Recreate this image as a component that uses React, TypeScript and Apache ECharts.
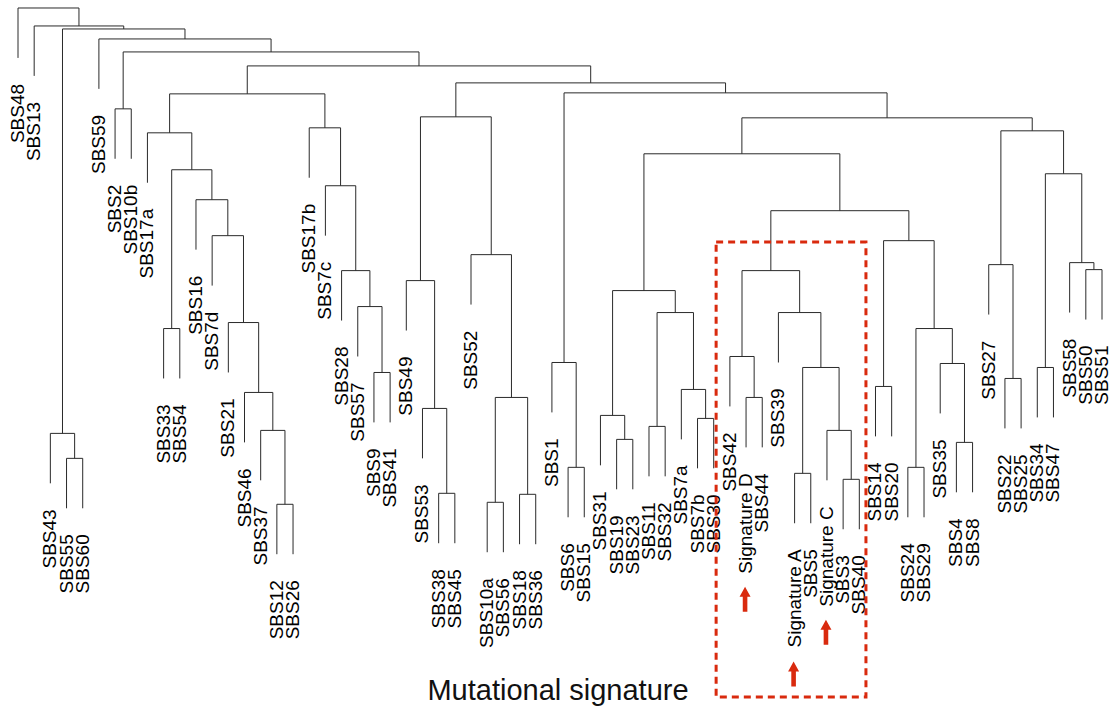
import React, { useEffect, useRef } from "react";
import * as echarts from "echarts";

// Leaves in display order (left to right)
const leafLabels: string[] = [
  "SBS48", "SBS13", "SBS43", "SBS55", "SBS60", "SBS59", "SBS2", "SBS10b", "SBS17a",
  "SBS33", "SBS54", "SBS16", "SBS7d", "SBS21", "SBS46", "SBS37", "SBS12", "SBS26",
  "SBS17b", "SBS7c", "SBS28", "SBS57", "SBS9", "SBS41", "SBS49", "SBS53", "SBS38",
  "SBS45", "SBS52", "SBS10a", "SBS56", "SBS18", "SBS36", "SBS1", "SBS6", "SBS15",
  "SBS31", "SBS19", "SBS23", "SBS11", "SBS32", "SBS7a", "SBS7b", "SBS30", "SBS42",
  "Signature D", "SBS44", "SBS39", "Signature A", "SBS5", "Signature C", "SBS3", "SBS40",
  "SBS14", "SBS20", "SBS24", "SBS29", "SBS35", "SBS4", "SBS8", "SBS27", "SBS22",
  "SBS25", "SBS34", "SBS47", "SBS58", "SBS50", "SBS51",
];

// Merge table (hclust style): a string is a leaf, a number is an earlier merge row
const mergeLeft: (string | number)[] = [
  "SBS55", "SBS43", "SBS2", "SBS33", "SBS12", "SBS37", "SBS46", "SBS21", "SBS7d", "SBS16",
  3, "SBS17a", "SBS9", "SBS57", "SBS28", "SBS7c", "SBS17b", 11, "SBS38", "SBS53",
  "SBS49", "SBS10a", "SBS18", 21, "SBS52", 20, "SBS6", "SBS1", "SBS19", "SBS31",
  "SBS11", "SBS7b", "SBS7a", 30, 29, "Signature D", "SBS42", "Signature A", "SBS3", "Signature C",
  37, "SBS39", 36, "SBS14", "SBS24", "SBS4", "SBS35", 44, 43, 42,
  34, "SBS22", "SBS27", "SBS34", "SBS50", "SBS58", 53, 52, 50, 27,
  25, 17, 2, "SBS59", 1, "SBS13", "SBS48",
];
const mergeRight: (string | number)[] = [
  "SBS60", 0, "SBS10b", "SBS54", "SBS26", 4, 5, 6, 7, 8,
  9, 10, "SBS41", 12, 13, 14, 15, 16, "SBS45", 18,
  19, "SBS56", "SBS36", 22, 23, 24, "SBS15", 26, "SBS23", 28,
  "SBS32", "SBS30", 31, 32, 33, "SBS44", 35, "SBS5", "SBS40", 38,
  39, 40, 41, "SBS20", "SBS29", "SBS8", 45, 46, 47, 48,
  49, "SBS25", 51, "SBS47", "SBS51", 54, 55, 56, 57, 58,
  59, 60, 61, 62, 63, 64, 65,
];
const mergeHeight: number[] = [
  14.1, 16.6, 49.1, 27.1, 9.5, 16.9, 20.7, 27.7, 36.4, 40.0,
  43.0, 46.7, 22.7, 29.3, 32.9, 41.4, 47.2, 50.6, 10.6, 19.1,
  31.9, 9.7, 10.5, 20.2, 34.5, 48.3, 13.2, 23.7, 16.0, 18.4,
  17.3, 18.1, 21.0, 28.7, 30.9, 20.2, 24.3, 12.6, 12.0, 16.9,
  23.2, 28.7, 32.9, 21.3, 13.2, 15.7, 23.6, 27.1, 35.9, 38.9,
  44.6, 22.1, 33.5, 23.2, 33.0, 33.7, 42.6, 46.9, 48.2, 50.7,
  51.7, 53.4, 54.8, 56.1, 57.1, 57.4, 59.2,
];
const hang = 5;

const highlighted: string[] = ["Signature D", "Signature A", "Signature C"];
// dashed box extent: [x0, x1] in leaf-index units, [top, bottom] in height units
const boxX: number[] = [43.15, 52.41];
const boxY: number[] = [35.77, -9.8];
const axisTitle = "Mutational signature";

const FONT = '"Liberation Sans", Arial, Helvetica, sans-serif';
const RED = "#d92a0e";

export default function App() {
  const ref = useRef<HTMLDivElement>(null);

  useEffect(() => {
    if (!ref.current) return;
    const chart = echarts.init(ref.current, null, { renderer: "svg" });

    const leafPos: Record<string, number> = {};
    leafLabels.forEach((l, i) => (leafPos[l] = i));
    const nodeX: number[] = [];
    const leafParentH: Record<string, number> = {};
    const links: number[][] = [];
    const child = (c: string | number, h: number): [number, number] => {
      if (typeof c === "number") return [nodeX[c], mergeHeight[c]];
      leafParentH[c] = h;
      return [leafPos[c], h - hang];
    };
    for (let i = 0; i < mergeHeight.length; i++) {
      const h = mergeHeight[i];
      const [xl, tl] = child(mergeLeft[i], h);
      const [xr, tr] = child(mergeRight[i], h);
      nodeX[i] = (xl + xr) / 2;
      links.push([xl, tl, xr, tr, h]);
    }
    const leafData = leafLabels.map((l) => [leafPos[l], leafParentH[l] - hang]);

    const canvas = document.createElement("canvas");
    const ctx = canvas.getContext("2d")!;
    const fontSize = 19;
    ctx.font = `${fontSize}px ${FONT}`;
    const labelGap = 26;

    chart.setOption({
      animation: false,
      backgroundColor: "#ffffff",
      grid: { left: 18, right: 8, top: 0, height: 710 },
      xAxis: { type: "value", min: 0, max: 67, show: false },
      yAxis: { type: "value", min: -11, max: 60, show: false },
      graphic: [
        {
          type: "text",
          x: 558,
          y: 690,
          style: {
            text: axisTitle,
            fontSize: 29,
            fontFamily: FONT,
            fill: "#111",
            align: "center",
            verticalAlign: "middle",
          },
        },
      ],
      series: [
        {
          type: "custom",
          clip: false,
          silent: true,
          data: links,
          encode: { x: [0, 2], y: [1, 3, 4] },
          renderItem: (params: any, api: any) => {
            const a = api.coord([api.value(0), api.value(1)]);
            const b = api.coord([api.value(0), api.value(4)]);
            const c = api.coord([api.value(2), api.value(4)]);
            const d = api.coord([api.value(2), api.value(3)]);
            return {
              type: "polyline",
              shape: { points: [a, b, c, d] },
              style: { stroke: "#2a2a2a", lineWidth: 1, fill: null },
            };
          },
        },
        {
          type: "custom",
          clip: false,
          silent: true,
          data: leafData,
          encode: { x: 0, y: 1 },
          renderItem: (params: any, api: any) => {
            const p = api.coord([api.value(0), api.value(1)]);
            const label = leafLabels[params.dataIndex];
            const ty = p[1] + labelGap;
            const children: any[] = [
              {
                type: "text",
                x: p[0] - 0.5,
                y: ty,
                rotation: Math.PI / 2,
                style: {
                  text: label,
                  fontSize,
                  lineHeight: 15,
                  fontFamily: FONT,
                  fill: "#000",
                  align: "right",
                  verticalAlign: "middle",
                },
              },
            ];
            if (highlighted.includes(label)) {
              const w = ctx.measureText(label).width;
              const top = ty + w + 13;
              const x = p[0] - 1;
              children.push({
                type: "polygon",
                shape: {
                  points: [
                    [x, top],
                    [x + 5.5, top + 10],
                    [x + 2.3, top + 10],
                    [x + 2.3, top + 25],
                    [x - 2.3, top + 25],
                    [x - 2.3, top + 10],
                    [x - 5.5, top + 10],
                  ],
                },
                style: { fill: RED },
              });
            }
            return { type: "group", children };
          },
        },
        {
          type: "custom",
          clip: false,
          silent: true,
          data: [[boxX[0], boxY[0], boxX[1], boxY[1]]],
          encode: { x: [0, 2], y: [1, 3] },
          renderItem: (params: any, api: any) => {
            const p0 = api.coord([api.value(0), api.value(1)]);
            const p1 = api.coord([api.value(2), api.value(3)]);
            return {
              type: "rect",
              shape: { x: p0[0], y: p0[1], width: p1[0] - p0[0], height: p1[1] - p0[1] },
              style: { fill: null, stroke: RED, lineWidth: 3, lineDash: [7, 5] },
            };
          },
        },
      ],
    });

    return () => chart.dispose();
  }, []);

  return (
    <div
      ref={ref}
      style={{ position: "fixed", left: 0, top: 0, width: 1110, height: 709, background: "#fff" }}
    />
  );
}
